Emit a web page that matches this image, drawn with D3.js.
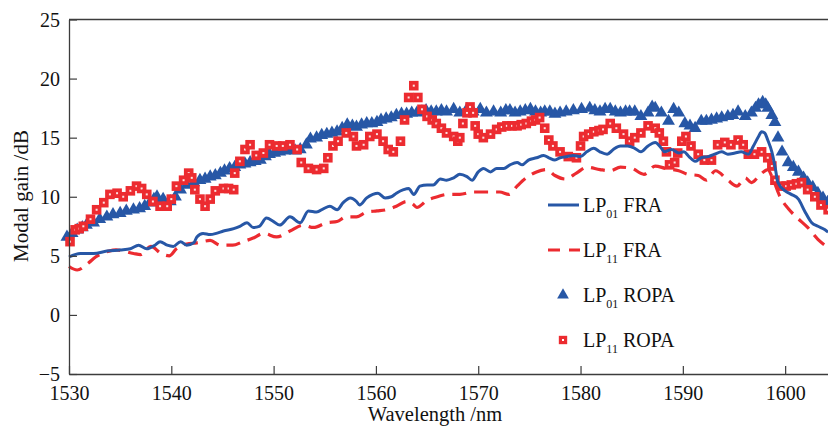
<!DOCTYPE html>
<html>
<head>
<meta charset="utf-8">
<script src="https://cdn.jsdelivr.net/npm/d3@7"></script>
<style>
  body { margin: 0; background: #fff; }
  svg { display: block; }
</style>
</head>
<body>
<svg id="chart" width="828" height="427"></svg>
<script>
// LP01 FRA (solid blue line)
var fra01Wl = [1530.0,1531.1,1532.4,1533.7,1535.0,1536.0,1536.8,1537.6,1538.4,1538.9,1539.6,1540.2,1540.9,1541.5,1542.2,1542.5,1543.1,1543.8,1544.4,1545.1,1546.1,1546.7,1547.4,1548.0,1548.6,1549.3,1550.0,1550.6,1551.6,1552.6,1553.4,1554.2,1554.9,1555.5,1556.2,1556.8,1557.5,1558.1,1558.4,1559.1,1559.7,1560.2,1560.9,1561.5,1562.0,1562.7,1563.2,1563.7,1564.3,1565.0,1565.6,1566.3,1566.9,1567.6,1568.2,1568.9,1569.4,1570.0,1570.5,1571.2,1571.8,1572.5,1573.1,1573.8,1574.3,1574.9,1575.7,1576.4,1576.9,1577.5,1578.0,1578.7,1579.3,1580.0,1580.6,1581.3,1581.9,1582.6,1583.2,1583.9,1584.6,1585.3,1585.9,1586.6,1587.3,1587.9,1588.2,1588.9,1589.6,1590.1,1590.6,1591.2,1591.8,1592.5,1593.1,1593.8,1594.4,1595.1,1595.7,1596.4,1596.9,1597.4,1597.7,1598.0,1598.3,1598.7,1599.0,1599.3,1600.0,1600.6,1601.3,1601.9,1602.6,1603.2,1603.9,1604.2];
var fra01Gain = [4.9,5.2,5.2,5.4,5.5,5.6,5.9,5.6,5.9,6.2,5.9,5.8,6.2,5.9,6.1,6.6,6.9,6.8,6.9,7.1,7.3,7.5,7.8,7.4,7.5,8.2,7.9,7.6,8.3,7.8,8.8,8.7,9.0,9.2,8.9,9.5,9.9,9.6,9.3,9.9,10.2,10.3,9.9,10.0,10.3,10.6,10.7,10.2,10.9,11.0,11.0,11.5,11.4,11.6,11.9,11.7,11.4,12.1,12.4,12.1,12.4,12.4,12.7,12.9,12.7,13.1,13.3,13.5,13.3,13.1,13.3,13.4,13.5,13.4,13.8,14.1,13.8,13.6,14.0,14.3,14.3,14.1,13.8,14.3,14.6,14.1,13.8,14.0,13.7,13.8,13.4,13.0,13.3,13.4,13.6,13.8,13.6,13.7,13.8,13.6,14.3,15.1,15.5,15.4,14.8,13.8,12.6,11.2,10.5,10.2,9.8,8.8,7.8,7.5,7.2,7.0];

// LP11 FRA (dashed red line)
var fra11Wl = [1530.0,1530.8,1531.9,1532.6,1533.9,1534.6,1536.3,1537.0,1538.0,1539.0,1539.8,1540.5,1541.5,1542.5,1543.8,1544.8,1546.0,1547.0,1548.0,1549.0,1550.3,1551.6,1552.9,1553.9,1555.2,1556.2,1557.1,1558.1,1559.1,1560.1,1561.0,1562.0,1563.0,1563.6,1564.0,1565.0,1566.0,1567.0,1568.2,1569.5,1570.5,1572.1,1573.0,1573.8,1574.7,1575.7,1576.7,1577.5,1578.5,1579.6,1580.6,1581.9,1582.9,1583.9,1585.0,1586.2,1587.3,1588.3,1589.6,1590.5,1591.5,1592.3,1593.2,1594.4,1595.3,1596.1,1596.7,1597.6,1598.3,1598.8,1599.5,1600.3,1601.2,1602.2,1603.2,1604.2];
var fra11Gain = [4.1,3.8,4.4,4.9,5.4,5.5,5.2,5.1,5.8,5.2,5.0,5.6,6.0,6.1,6.3,5.9,5.9,6.2,6.5,6.9,6.6,7.1,7.6,7.4,7.8,7.9,8.3,8.3,8.7,8.8,8.9,9.2,9.6,9.4,9.1,9.7,10.0,10.2,10.2,10.4,10.4,10.4,10.2,10.9,11.6,12.1,12.3,11.8,11.5,12.0,12.5,12.3,12.2,12.5,12.4,11.9,12.6,12.4,12.2,11.9,11.8,11.4,12.2,11.4,10.9,11.6,11.2,11.9,12.3,11.5,10.0,9.0,8.2,7.4,6.4,5.7];

// LP01 ROPA (blue triangles)
var ropa01Wl = [1529.8,1530.3,1530.8,1531.3,1531.7,1532.4,1533.0,1533.7,1534.3,1535.0,1535.6,1536.3,1536.9,1537.4,1537.9,1538.3,1538.6,1539.2,1539.9,1540.4,1540.9,1541.5,1542.2,1542.8,1543.3,1543.8,1544.3,1544.8,1545.2,1545.7,1546.2,1546.7,1547.2,1547.7,1548.2,1548.7,1549.2,1549.6,1550.1,1550.6,1551.1,1551.6,1552.1,1552.6,1553.2,1553.6,1554.2,1554.7,1555.2,1555.7,1556.2,1556.7,1557.2,1557.7,1558.1,1558.6,1559.1,1559.6,1560.1,1560.5,1561.0,1561.5,1562.0,1562.5,1563.0,1563.5,1564.0,1564.5,1564.9,1565.4,1565.9,1566.4,1566.9,1567.6,1568.2,1568.9,1569.5,1570.2,1570.8,1571.5,1572.2,1572.7,1573.1,1573.6,1574.1,1574.6,1575.1,1575.6,1576.1,1576.5,1577.0,1577.5,1578.0,1578.6,1579.3,1580.1,1580.9,1581.4,1581.9,1582.4,1582.9,1583.4,1583.9,1584.4,1584.8,1585.3,1585.9,1586.6,1587.0,1587.3,1587.9,1588.6,1589.1,1589.6,1590.2,1590.7,1591.2,1591.8,1592.3,1592.8,1593.3,1593.8,1594.4,1594.9,1595.4,1596.1,1596.7,1597.1,1597.4,1597.8,1598.1,1598.3,1598.7,1599.0,1599.3,1599.7,1600.3,1600.8,1601.3,1601.8,1602.2,1602.7,1603.2,1603.7,1604.2];
var ropa01Gain = [6.6,6.9,7.2,7.4,7.6,7.8,8.1,8.3,8.5,8.6,8.8,8.9,9.0,9.2,9.5,9.8,10.0,9.8,9.6,10.0,10.6,11.0,11.2,11.4,11.5,11.7,11.8,12.0,12.2,12.4,12.5,12.7,12.8,12.9,13.0,13.1,13.4,13.6,13.7,13.8,13.9,14.0,13.9,14.0,14.4,14.9,15.0,15.2,15.3,15.4,15.5,15.8,16.1,16.0,15.9,16.1,16.2,16.2,16.3,16.5,16.6,16.7,16.9,17.0,17.0,17.1,17.1,17.2,17.3,17.2,17.2,17.3,17.2,17.4,17.1,17.4,17.2,17.4,17.1,17.2,17.1,17.3,17.3,17.1,17.2,17.3,17.4,17.2,17.1,17.2,17.2,17.0,17.1,17.2,17.3,17.4,17.5,17.3,17.2,17.4,17.4,17.2,17.1,17.2,17.2,17.2,16.8,17.1,17.6,17.5,17.1,16.4,17.4,17.1,16.2,16.0,15.8,16.4,16.4,16.5,16.6,16.7,16.8,16.9,17.2,16.8,17.1,17.5,17.8,18.0,17.8,17.5,16.9,16.3,15.0,13.8,12.9,12.5,12.1,11.6,11.2,10.8,10.3,9.9,9.6];

// LP11 ROPA (red squares)
var ropa11Wl = [1530.1,1530.6,1531.0,1531.4,1532.1,1532.7,1533.4,1534.0,1534.7,1535.3,1536.0,1536.6,1537.1,1537.6,1538.2,1538.9,1539.6,1540.0,1540.5,1541.2,1541.7,1542.0,1542.3,1542.8,1543.3,1543.8,1544.3,1545.1,1545.6,1546.1,1546.2,1546.7,1547.2,1547.7,1548.3,1549.0,1549.6,1550.3,1550.9,1551.6,1552.3,1552.7,1553.4,1554.2,1554.9,1555.3,1555.8,1556.3,1557.1,1557.8,1558.1,1558.8,1559.4,1560.1,1560.7,1561.2,1561.7,1562.4,1562.8,1563.2,1563.7,1564.1,1564.5,1565.0,1565.5,1565.9,1566.4,1566.9,1567.6,1568.0,1568.2,1568.5,1568.9,1569.2,1569.5,1569.7,1570.0,1570.5,1571.2,1571.8,1572.3,1572.8,1573.3,1573.8,1574.2,1574.7,1575.2,1575.6,1576.0,1576.5,1576.9,1577.3,1578.0,1578.8,1579.6,1580.0,1580.3,1580.8,1581.3,1581.8,1582.2,1582.9,1583.5,1584.2,1584.8,1585.3,1585.9,1586.6,1587.3,1587.7,1588.1,1588.4,1588.7,1589.2,1589.5,1589.9,1590.3,1590.8,1591.5,1592.1,1592.8,1593.4,1594.1,1594.7,1595.4,1595.9,1596.4,1597.0,1597.7,1598.3,1598.7,1599.0,1599.6,1600.1,1600.6,1601.1,1601.6,1602.2,1602.9,1603.5,1604.2];
var ropa11Gain = [6.2,7.2,7.3,7.5,8.1,8.9,9.5,10.2,10.3,10.0,10.5,10.9,10.7,10.2,9.6,9.2,9.2,9.8,10.9,11.4,12.0,11.6,10.6,9.8,9.2,9.8,10.5,10.7,10.7,10.6,12.0,13.0,14.0,14.4,13.5,13.7,14.4,14.3,14.3,14.4,14.0,12.9,12.4,12.3,12.4,13.3,14.3,14.7,15.4,15.1,14.3,14.4,15.1,15.3,14.7,14.0,13.8,14.7,16.5,18.4,19.4,18.4,17.4,16.8,16.5,16.2,15.8,15.4,15.1,14.7,15.0,16.2,17.1,17.6,17.1,16.0,15.3,15.0,15.3,15.7,15.9,16.0,16.0,16.0,16.1,16.2,16.4,16.5,16.7,15.8,14.8,14.3,13.8,13.4,13.3,14.3,15.1,15.3,15.5,15.6,15.7,16.2,15.8,15.3,14.7,15.0,15.4,16.0,15.8,15.4,14.7,13.8,12.7,12.9,13.7,14.7,15.1,14.3,13.6,13.1,13.1,14.4,14.6,14.4,14.8,14.4,13.6,13.6,13.8,13.3,12.6,11.4,10.9,10.9,11.0,11.1,11.2,10.6,10.0,9.3,8.9];

var xTicks = [1530, 1540, 1550, 1560, 1570, 1580, 1590, 1600];
var yTicks = [-5, 0, 5, 10, 15, 20, 25];
var legendLabels = [["01", "FRA"], ["11", "FRA"], ["01", "ROPA"], ["11", "ROPA"]];

var blue = "#2757a6", red = "#ec2b30", axisCol = "#3c3c3c";
var font = "'Liberation Serif', 'DejaVu Serif', serif";

var svg = d3.select("#chart");
var x = d3.scaleLinear().domain([1530, 1605]).range([69, 836.3]);
var y = d3.scaleLinear().domain([-5, 25]).range([374, 19.5]);

function pairs(wl, g) { return wl.map(function(w, i) { return [w, g[i]]; }); }

// markers (drawn first so the lines sit on top)
var tri = d3.symbol().type(d3.symbolTriangle).size(72)();
var sq = d3.symbol().type(d3.symbolSquare).size(92)();

var gTri = svg.append("g");
gTri.selectAll("path").data(pairs(ropa01Wl, ropa01Gain)).enter().append("path")
    .attr("d", tri)
    .attr("transform", function(d) { return "translate(" + x(d[0]) + "," + y(d[1]) + ")"; })
    .attr("fill", blue);

var gSq = svg.append("g");
gSq.selectAll("g").data(pairs(ropa11Wl, ropa11Gain)).enter().append("g")
    .attr("transform", function(d) { return "translate(" + x(d[0]) + "," + y(d[1]) + ")"; })
    .each(function() {
        var s = d3.select(this);
        s.append("path").attr("d", sq).attr("fill", red);
        s.append("rect").attr("x", -1).attr("y", -1).attr("width", 2).attr("height", 2).attr("fill", "#fbe3e3");
    });

// FRA lines
var line = d3.line()
    .x(function(d) { return x(d[0]); })
    .y(function(d) { return y(d[1]); })
    .curve(d3.curveMonotoneX);

svg.append("path")
    .datum(pairs(fra11Wl, fra11Gain))
    .attr("d", line)
    .attr("fill", "none")
    .attr("stroke", red)
    .attr("stroke-width", 3.2)
    .attr("stroke-dasharray", "14,8");

svg.append("path")
    .datum(pairs(fra01Wl, fra01Gain))
    .attr("d", line)
    .attr("fill", "none")
    .attr("stroke", blue)
    .attr("stroke-width", 3);

// axes
var xAxis = svg.append("g")
    .attr("transform", "translate(0," + y(-5) + ")")
    .call(d3.axisBottom(x).tickValues(xTicks).tickFormat(d3.format("d"))
        .tickSizeInner(-8).tickSizeOuter(0).tickPadding(12));
var yAxis = svg.append("g")
    .attr("transform", "translate(" + x(1530) + ",0)")
    .call(d3.axisLeft(y).tickValues(yTicks).tickFormat(function(d) { return d < 0 ? "\u2212" + (-d) : d; })
        .tickSizeInner(-8).tickSizeOuter(0).tickPadding(9));

[xAxis, yAxis].forEach(function(a) {
    a.attr("font-family", font).attr("font-size", 20);
    a.select(".domain").attr("stroke", axisCol).attr("stroke-width", 1.3);
    a.selectAll(".tick line").attr("stroke", axisCol).attr("stroke-width", 1.2);
    a.selectAll(".tick text").attr("fill", "#111");
});
yAxis.selectAll(".tick text").attr("dy", "0.34em");

// top frame line
svg.append("line")
    .attr("x1", x(1530)).attr("x2", x(1605))
    .attr("y1", y(25)).attr("y2", y(25))
    .attr("stroke", axisCol).attr("stroke-width", 1.3);

// axis titles
svg.append("text")
    .attr("x", 435).attr("y", 421)
    .attr("text-anchor", "middle")
    .attr("font-family", font).attr("font-size", 20.5).attr("fill", "#111")
    .text("Wavelength /nm");
svg.append("text")
    .attr("transform", "translate(28," + 196 + ") rotate(-90)")
    .attr("text-anchor", "middle")
    .attr("font-family", font).attr("font-size", 21).attr("fill", "#111")
    .text("Modal gain /dB");

// legend
var legY = [205, 250, 295, 340];
var leg = svg.append("g");
leg.append("line").attr("x1", 548).attr("x2", 579).attr("y1", legY[0]).attr("y2", legY[0])
    .attr("stroke", blue).attr("stroke-width", 3);
leg.append("line").attr("x1", 548).attr("x2", 580).attr("y1", legY[1]).attr("y2", legY[1])
    .attr("stroke", red).attr("stroke-width", 3.2).attr("stroke-dasharray", "12,9");
leg.append("path").attr("d", d3.symbol().type(d3.symbolTriangle).size(60)()).attr("fill", blue)
    .attr("transform", "translate(563," + legY[2] + ")");
leg.append("path").attr("d", d3.symbol().type(d3.symbolSquare).size(70)()).attr("fill", red)
    .attr("transform", "translate(563," + legY[3] + ")");
leg.append("rect").attr("x", 562).attr("y", legY[3] - 1).attr("width", 2).attr("height", 2).attr("fill", "#fff");

legendLabels.forEach(function(l, i) {
    var t = leg.append("text")
        .attr("x", 583).attr("y", legY[i] + 7)
        .attr("font-family", font).attr("font-size", 20).attr("fill", "#111");
    t.append("tspan").text("LP");
    t.append("tspan").attr("font-size", 12).attr("dy", 6).text(l[0]);
    t.append("tspan").attr("dy", -6).text(" " + l[1]);
});
</script>
</body>
</html>
